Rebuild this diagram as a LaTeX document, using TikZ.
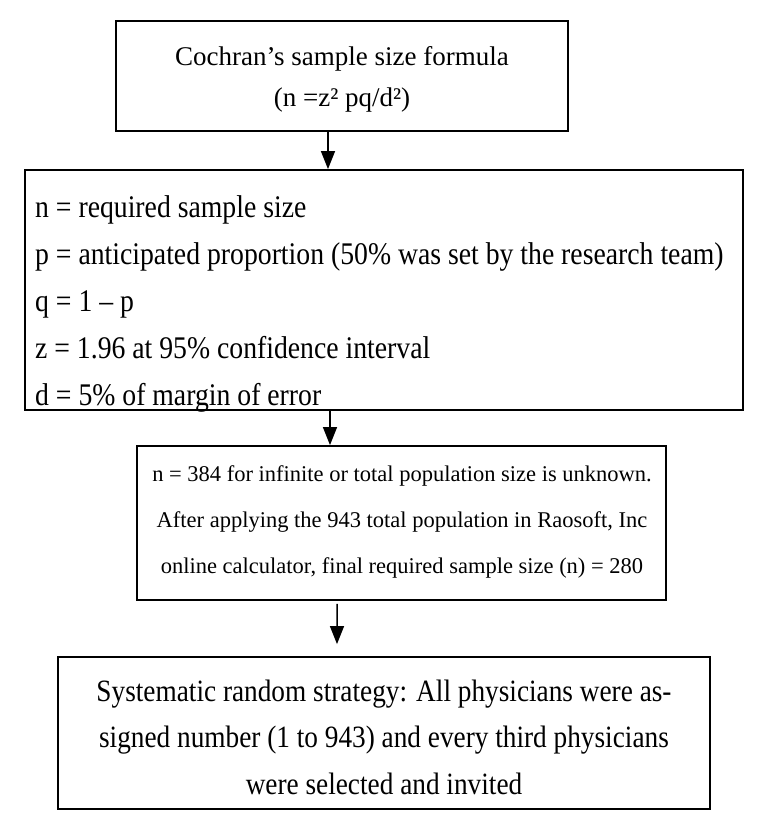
\documentclass[tikz,border=0pt]{standalone}
\usepackage{fontspec}
\setmainfont{Liberation Serif}
\newfontfamily\cond[FakeStretch=0.88]{Liberation Serif}
\usetikzlibrary{arrows.meta,calc}
\tikzset{
  boxnode/.style={draw=black, line width=1.8bp, inner sep=0pt, fill=none},
  arr/.style={line width=1.5bp, -{Triangle[width=14bp,length=18bp]}},
  txt/.style={inner sep=0pt, text=black},
}
\begin{document}
\begin{tikzpicture}[x=1bp,y=-1bp]
\useasboundingbox (0,0) rectangle (765,836);
% boxes
\node[boxnode, minimum width=452bp, minimum height=110bp] (b1) at (342,76) {};
\node[boxnode, minimum width=718bp, minimum height=240bp] (b2) at (384,290) {};
\node[boxnode, minimum width=529bp, minimum height=154bp] (b3) at (401.5,523) {};
\node[boxnode, minimum width=652bp, minimum height=152bp] (b4) at (384,733) {};
% texts
\node[txt, align=center, font=\fontsize{27bp}{41bp}\selectfont] (t1) at (342,79)
  {Cochran’s sample size formula\\(n =z² pq/d²)};
\node[txt, align=left, anchor=west, font=\cond\fontsize{31.5bp}{47bp}\selectfont] (t2) at (35,304)
  {n = required sample size\\
   p = anticipated proportion (50\% was set by the research team)\\
   q = 1 – p\\
   z = 1.96 at 95\% confidence interval\\
   d = 5\% of margin of error};
\node[txt, align=center, font=\fontsize{22.5bp}{46bp}\selectfont] (t3) at (402,522)
  {n = 384 for infinite or total population size is unknown.\\
   After applying the 943 total population in Raosoft, Inc\\
   online calculator, final required sample size (n) = 280};
\node[txt, align=center, font=\cond\fontsize{31bp}{46.5bp}\selectfont] (t4) at (384,737)
  {Systematic random strategy: All physicians were as-\\
   signed number (1 to 943) and every third physicians\\
   were selected and invited};
% arrows
\draw[arr] ([xshift=-14bp]b1.south) -- ([xshift=-14bp]b1.south |- b2.north);
\draw[arr] ([xshift=-54bp]b2.south) -- ([xshift=-54bp]b2.south |- b3.north);
\draw[arr] ([xshift=-64.5bp,yshift=-3bp]b3.south) -- ([xshift=-47bp,yshift=12bp]b4.north);
\end{tikzpicture}
\end{document}
